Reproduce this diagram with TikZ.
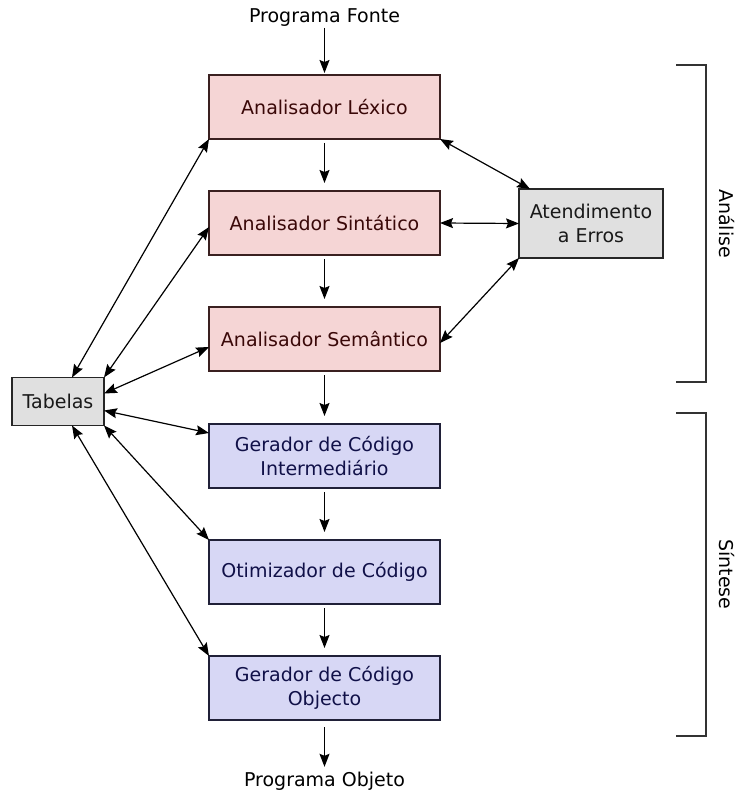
\documentclass[tikz,border=0pt]{standalone}
\usepackage{fontspec}
\setmainfont{DejaVu Sans}
\usetikzlibrary{arrows.meta,calc}
\definecolor{redfill}{HTML}{F5D5D5}
\definecolor{redtext}{HTML}{3A0808}
\definecolor{redline}{HTML}{3A2020}
\definecolor{bluefill}{HTML}{D7D7F5}
\definecolor{bluetext}{HTML}{101048}
\definecolor{blueline}{HTML}{202038}
\definecolor{grayfill}{HTML}{E0E0E0}
\begin{document}
\begin{tikzpicture}[x=1pt,y=-1pt,
  every node/.style={font=\fontsize{19}{24}\selectfont, outer sep=0pt, align=center, inner sep=0pt},
  phase/.style={draw, line width=1.1pt, minimum width=231pt, minimum height=64pt},
  anabox/.style={phase, fill=redfill, draw=redline, text=redtext},
  sinbox/.style={phase, fill=bluefill, draw=blueline, text=bluetext},
  auxbox/.style={draw=black!85, line width=1.1pt, fill=grayfill, text=black!90},
  flow/.style={line width=1.2pt, -{Stealth[length=13pt,width=10pt,inset=2pt]}},
  link/.style={line width=1.2pt, {Stealth[length=13pt,width=10pt,inset=2pt]}-{Stealth[length=13pt,width=10pt,inset=2pt]}},
  brace/.style={line width=1.1pt, draw=black!80}
]
\useasboundingbox (0,0) rectangle (736,794);

\node (src) at (324.5,18) {Programa Fonte};
\node[anabox] (lex) at (324.5,107) {Analisador Léxico};
\node[anabox] (sin) at (324.5,223) {Analisador Sintático};
\node[anabox] (sem) at (324.5,339) {Analisador Semântico};
\node[sinbox] (int) at (324.5,456) {Gerador de Código\\Intermediário};
\node[sinbox] (oti) at (324.5,572) {Otimizador de Código};
\node[sinbox] (obj) at (324.5,688) {Gerador de Código\\Objecto};
\node (dst) at (324.5,781) {Programa Objeto};

\node[auxbox, minimum width=92pt, minimum height=48pt] (tab) at (58,401.5) {Tabelas};
\node[auxbox, minimum width=144pt, minimum height=69pt] (err) at (591,223.5) {Atendimento\\a Erros};

% main flow
\coordinate (srcb) at (324.5,28);
\draw[flow] (srcb) -- ($(lex.north)+(0,-2)$);
\draw[flow] ($(lex.south)+(0,4)$) -- ($(sin.north)+(0,-8)$);
\draw[flow] ($(sin.south)+(0,4)$) -- ($(sem.north)+(0,-8)$);
\draw[flow] ($(sem.south)+(0,4)$) -- ($(int.north)+(0,-8)$);
\draw[flow] ($(int.south)+(0,4)$) -- ($(oti.north)+(0,-8)$);
\draw[flow] ($(oti.south)+(0,4)$) -- ($(obj.north)+(0,-8)$);
\draw[flow] ($(obj.south)+(0,7)$) -- ($(dst.north)+(0,-5)$);

% tables
\draw[link] ($(tab.north)+(14,0)$) -- (lex.south west);
\draw[link] (tab.north east) -- ($(sin.west)+(0,4)$);
\draw[link] ($(tab.east)+(0,-8)$) -- ($(sem.west)+(0,8)$);
\draw[link] ($(tab.east)+(0,9)$) -- ($(int.west)+(0,-23)$);
\draw[link] (tab.south east) -- (oti.north west);
\draw[link] ($(tab.south)+(14,0)$) -- (obj.north west);

% errors
\draw[link] (lex.south east) -- ($(err.north west)+(11,0)$);
\draw[link] (sin.east) -- (err.west);
\draw[link] ($(sem.east)+(0,4)$) -- (err.south west);

% brackets
\draw[brace] (676,65) -- (706,65) -- (706,382) -- (676,382);
\draw[brace] (676,413) -- (706,413) -- (706,736) -- (676,736);
\node[rotate=-90] (lana) at (727,223.5) {Análise};
\node[rotate=-90] (lsin) at (727,574.5) {Síntese};
\end{tikzpicture}
\end{document}
